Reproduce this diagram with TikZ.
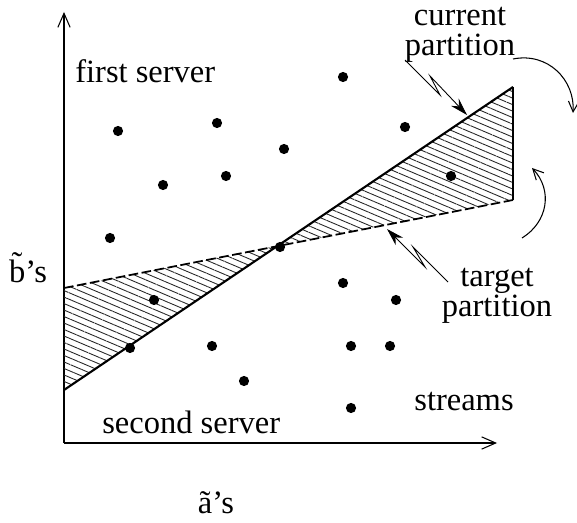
\documentclass[tikz,border=0pt]{standalone}
\usepackage{fontspec}
\setmainfont{Liberation Serif}
\usetikzlibrary{arrows.meta,patterns.meta}

\tikzset{
  dot/.style={circle,fill=black,inner sep=0pt,minimum size=5.8pt},
  lbl/.style={font=\fontsize{18.5}{17}\selectfont,inner sep=0pt,align=center},
  axis/.style={line width=0.6pt,-{Straight Barb[length=8pt,width=7pt]}},
  hatch/.style={pattern={Lines[angle=-23,distance=3.4pt,line width=0.5pt]},pattern color=black!85},
  bolt/.style={line width=0.5pt,-{Stealth[length=10pt,width=6pt]}},
  turn/.style={line width=0.6pt,-{Straight Barb[length=6pt,width=6pt]}}
}

\begin{document}
\begin{tikzpicture}[x=0.02cm,y=-0.02cm]
\useasboundingbox (0,0) rectangle (577,523);

% axes
\coordinate (O) at (64,443);
\coordinate (ytop) at (64,12);
\coordinate (xend) at (497,443);
\draw[axis] (O) -- (ytop);
\draw[axis] (O) -- (xend);

% partitions
\coordinate (c1) at (64,390);
\coordinate (c2) at (513,87);
\coordinate (t1) at (64,288);
\coordinate (t2) at (513,200);
\coordinate (X) at (277,246);
\fill[hatch] (t1) -- (c1) -- (X) -- cycle;
\fill[hatch] (X) -- (c2) -- (t2) -- cycle;
\draw[line width=1.2pt] (c1) -- (c2);
\draw[line width=1pt,dash pattern=on 5.5pt off 2pt] (t1) -- (t2);
\draw[line width=0.8pt] (c2) -- (t2);

% streams
\foreach \x/\y [count=\i] in {343/77,118/131,217/123,284/149,405/127,163/185,226/176,451/176,
  110/238,280/247,343/283,154/300,396/300,130/348,212/346,351/346,390/346,244/381,351/408}
  \node[dot] (s\i) at (\x,\y) {};

% labels
\node[lbl,anchor=base west] (first) at (75,83) {first server};
\node[lbl,anchor=base west] (second) at (102,433) {second server};
\node[lbl] (cur) at (460,35) {current\\partition};
\node[lbl] (tgt) at (497,296) {target\\partition};
\node[lbl] (str) at (464,402) {streams};
\node[lbl] (bs) at (28,268) {\~{b}’s};
\node[lbl] (as) at (216,503) {\~{a}’s};

% pointers
\coordinate (ca) at (405,60);
\coordinate (cb) at (440,95);
\coordinate (cc) at (430,76);
\coordinate (cd) at (467,115);
\draw[bolt] (ca) -- (cb) -- (cc) -- (cd);
\coordinate (ta) at (448,282);
\coordinate (tb) at (413,247);
\coordinate (tc) at (425,267);
\coordinate (td) at (387,229);
\draw[bolt] (ta) -- (tb) -- (tc) -- (td);

% rotation
\coordinate (r1) at (513,59);
\coordinate (r2) at (573,113);
\draw[turn] (r1) .. controls (548,52) and (575,80) .. (r2);
\coordinate (r3) at (522,238);
\coordinate (r4) at (532,168);
\draw[turn] (r3) .. controls (548,222) and (553,190) .. (r4);

\end{tikzpicture}
\end{document}
